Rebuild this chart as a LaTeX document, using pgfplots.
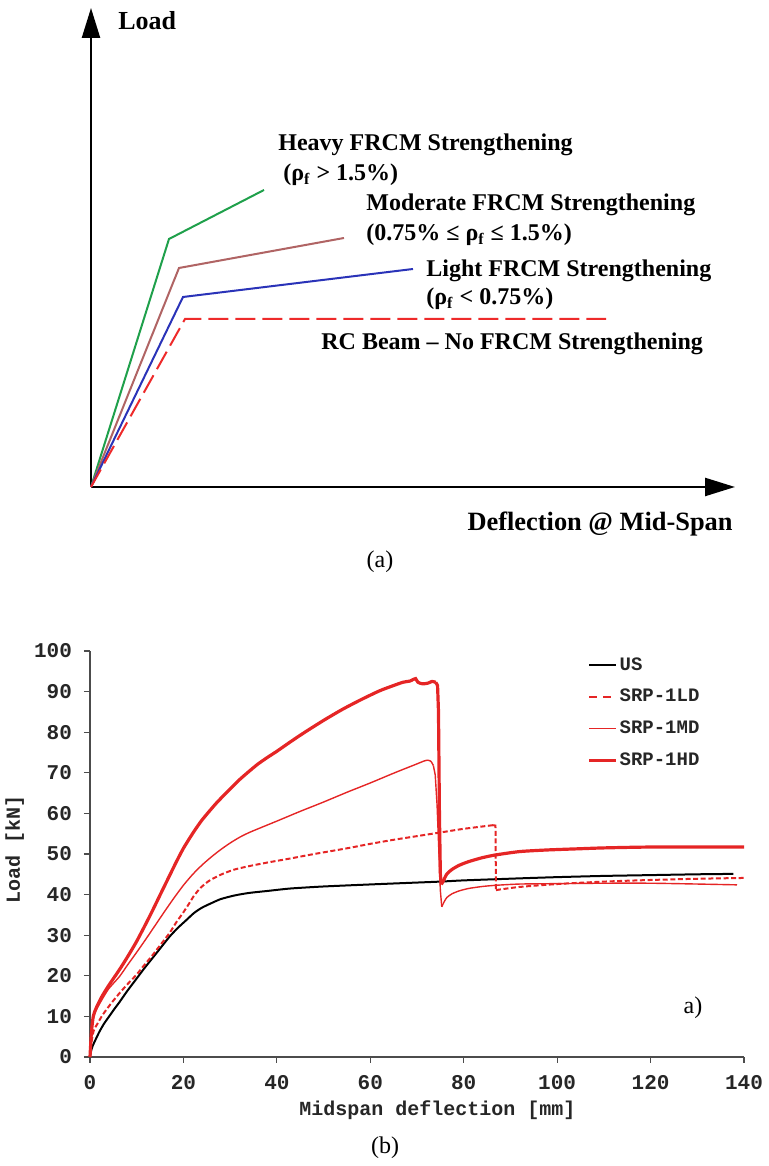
\documentclass[border=0pt]{standalone}
\usepackage{fontspec}
\setmainfont{Liberation Serif}
\setmonofont{Liberation Mono}
\usepackage{pgfplots}
\pgfplotsset{compat=1.18}
\usetikzlibrary{arrows.meta}
\definecolor{SchGreen}{HTML}{1FA04B}
\definecolor{SchBrown}{HTML}{B06464}
\definecolor{SchBlue}{HTML}{2A33B8}
\definecolor{SchRed}{HTML}{EE2A2A}
\definecolor{TestRed}{HTML}{E52525}
\tikzset{lbl/.style={font=\bfseries\fontsize{12}{14}\selectfont, inner sep=0pt}}
\pgfplotsset{
  usline/.style={black, line width=1pt},
  ldline/.style={TestRed, line width=1pt, dash pattern=on 2.5pt off 1.3pt},
  mdline/.style={TestRed, line width=0.7pt},
  hdline/.style={TestRed, line width=1.6pt},
}

\begin{document}
\begin{tikzpicture}
\useasboundingbox (0,0) rectangle (384pt,583pt);

% ---------- (a) schematic ----------
\begin{axis}[
  at={(45.5pt,339.5pt)}, anchor=south west,
  scale only axis, width=322pt, height=239.5pt,
  xmin=0, xmax=644, ymin=0, ymax=479,
  axis lines=left,
  axis line style={line width=1.2pt, -{Triangle[length=15pt,width=9pt]}},
  xtick=\empty, ytick=\empty, clip=false,
]
\addplot[SchGreen, line width=1pt] coordinates {(0,0) (78,248) (173,297)};
\addplot[SchBrown, line width=1pt] coordinates {(0,0) (88,219) (253,249)};
\addplot[SchBlue, line width=1pt] coordinates {(0,0) (92,190) (322,218)};
\addplot[SchRed, line width=1pt, dash pattern=on 10pt off 3.5pt] coordinates {(0,0) (94,168) (515,168)};

\node[lbl, font=\bfseries\fontsize{13}{15}\selectfont, anchor=base west] at (axis cs:27,457) {Load};
\node[lbl, anchor=base west] at (axis cs:187,336) {Heavy FRCM Strengthening};
\node[lbl, anchor=base west] at (axis cs:192,306) {(ρ\textsubscript{f} > 1.5\%)};
\node[lbl, anchor=base west] at (axis cs:275,276) {Moderate FRCM Strengthening};
\node[lbl, anchor=base west] at (axis cs:275,246) {(0.75\% ≤ ρ\textsubscript{f} ≤ 1.5\%)};
\node[lbl, anchor=base west] at (axis cs:335,210) {Light FRCM Strengthening};
\node[lbl, anchor=base west] at (axis cs:335,182) {(ρ\textsubscript{f} < 0.75\%)};
\node[lbl, anchor=base west] at (axis cs:230,137) {RC Beam – No FRCM Strengthening};
\node[lbl, font=\bfseries\fontsize{13.2}{15}\selectfont, anchor=base east] at (axis cs:642,-44) {Deflection @ Mid-Span};
\end{axis}
\node[font=\fontsize{12}{14}\selectfont] at (190pt,302pt) {(a)};

% ---------- (b) test results ----------
\begin{axis}[
  at={(45pt,54.5pt)}, anchor=south west,
  scale only axis, width=327pt, height=203pt,
  xmin=0, xmax=140, ymin=0, ymax=100,
  axis x line*=bottom, axis y line*=left,
  axis line style={line width=0.6pt, color=black!70},
  xtick={0,20,...,140}, ytick={0,10,...,100},
  tick align=outside, major tick length=3pt,
  tick style={line width=0.6pt, color=black!70},
  /pgf/number format/assume math mode=true,
  ticklabel style={font=\ttfamily\bfseries\fontsize{10.5}{12}\selectfont, text=black!85},
  xticklabel style={yshift=-2.5pt},
  yticklabel style={xshift=-2.5pt},
  xlabel={Midspan deflection [mm]}, ylabel={Load [kN]},
  every axis x label/.style={at={(axis description cs:0.531,-0.13)}, anchor=center,
    font=\ttfamily\bfseries\fontsize{10}{12}\selectfont, text=black!85},
  every axis y label/.style={at={(axis description cs:-0.115,0.51)}, rotate=90, anchor=center,
    font=\ttfamily\bfseries\fontsize{10}{12}\selectfont, text=black!85},
  legend style={at={(axis description cs:0.76,0.99)}, anchor=north west, draw=none, fill=none,
    font=\ttfamily\bfseries\fontsize{9.5}{11}\selectfont, row sep=6pt, inner sep=0pt,
    nodes={inner sep=1pt, text=black!85}},
  legend cell align=left,
  legend image code/.code={\draw[#1] (0pt,0pt) -- (13.5pt,0pt);},
  clip=false,
]
% US
\addplot[usline, smooth, tension=0.4] coordinates {
(0,0) (0.3,1.8) (0.6,2.8) (1.2,4.3) (2,6.2) (3,8.2) (4.1,10) (5.2,11.8) (6.3,13.5)
(8,16.3) (9.9,19.2) (11.6,21.8) (13.4,24.4) (15.2,27) (17,29.6) (18.8,31.8)
(20.6,33.7) (22.3,35.5) (24,36.8) (26,37.9) (28,38.9) (31,39.8) (34,40.4)
(38,40.9) (42.9,41.5) (50,42) (60,42.5) (66.4,42.8) (75,43.2) (80,43.5) (92,44)
(100,44.3) (110,44.6) (120,44.8) (130,45) (137.7,45.1)};
\addlegendentry{US}

% SRP-1LD
\addplot[ldline, smooth, tension=0.4,
  legend image post style={dash pattern=on 4pt off 3pt}] coordinates {
(0,0) (0.3,3.5) (0.8,6.5) (1.6,8.2) (2.5,10) (3.4,11.5) (4.8,13.6) (6.3,15.7)
(8,17.9) (9.9,20.2) (11.6,22.6) (13.4,25.1) (15.2,27.8) (17,30.5) (18.6,33.4)
(19.8,35.3) (21,37.4) (22.2,39.6) (23.6,41.6) (25.5,43.4) (28,44.9) (30.7,46.1)
(34,47) (38,47.9) (42.9,48.9) (48,50) (55,51.4) (60,52.5) (65,53.5) (70,54.4)
(75,55.3) (80,56.2) (86.3,57.1)};
\addlegendentry{SRP-1LD}
\addplot[ldline, forget plot] coordinates {(86.3,57.1) (86.8,57) (86.9,41.1)};
\addplot[ldline, smooth, tension=0.4, forget plot] coordinates {
(86.9,41.1) (88,41.3) (92.1,41.9) (100,42.6) (110,43.2) (120,43.6) (130,43.9) (140,44.1)};

% SRP-1MD
\addplot[mdline, smooth, tension=0.4] coordinates {
(0,0) (0.3,6) (0.7,9.5) (1.3,11.5) (2.5,14) (4,16.8) (6.3,19.8) (8,22.6)
(10,25.8) (12,29.1) (14,32.5) (16,35.9) (18,39.2) (20,42.3) (22,45) (24,47.3)
(26,49.3) (28,51.1) (30,52.7) (32,54.1) (34.3,55.4) (40,58.1) (45,60.5) (50,62.8)
(55,65.2) (60,67.5) (65,69.9) (70,72.2) (71.5,72.9) (72.3,73.1) (73,72.8) (73.5,71.8)};
\addlegendentry{SRP-1MD}
\addplot[mdline, forget plot] coordinates {
(73.5,71.8) (73.9,69.5) (74.3,62) (74.7,50) (75,41) (75.3,37)};
\addplot[mdline, smooth, tension=0.4, forget plot] coordinates {
(75.3,37) (75.8,38.2) (76.4,39.3) (77.5,40.2) (79,40.9) (81,41.5) (84,42) (87,42.3)
(92,42.6) (100,42.7) (110,42.8) (120,42.8) (130,42.6) (138.5,42.4)};

% SRP-1HD
\addplot[hdline, smooth, tension=0.4] coordinates {
(0,0) (0.3,6) (0.7,10) (1.3,12) (2.5,14.8) (4,17.6) (6.3,21.5) (8,24.6) (9.9,28.3)
(11.5,31.8) (13.1,35.4) (15,39.9) (17,44.6) (18.5,48.1) (20,51.4) (22,55.1)
(24,58.4) (27.1,62.6) (30,66) (32,68.3) (34.3,70.6) (36,72.2) (38,73.8)
(40,75.3) (43,77.7) (46,80) (50,82.9) (54,85.6) (58,88) (62,90.2) (65,91.5)
(67,92.3) (68.5,92.6) (69.2,93) (69.7,93.2) (70.2,92.3) (71.2,91.9) (72.4,92.1)
(73.2,92.5) (74,92.3)};
\addlegendentry{SRP-1HD}
\addplot[hdline, forget plot] coordinates {
(74,92.3) (74.4,91.5) (74.6,85) (74.8,60) (75,45) (75.2,42.5)};
\addplot[hdline, smooth, tension=0.4, forget plot] coordinates {
(75.2,42.5) (75.6,43.3) (76.4,45.1) (77.5,46.2) (79,47.2) (81,48.1) (84,49.1)
(87,49.8) (92,50.6) (98,51) (105,51.3) (110,51.5) (119,51.7) (130,51.7) (140,51.7)};

\node[font=\fontsize{12}{14}\selectfont] at (axis description cs:0.922,0.121) {a)};
\end{axis}
\node[font=\fontsize{12}{14}\selectfont] at (192.5pt,9pt) {(b)};
\end{tikzpicture}
\end{document}
